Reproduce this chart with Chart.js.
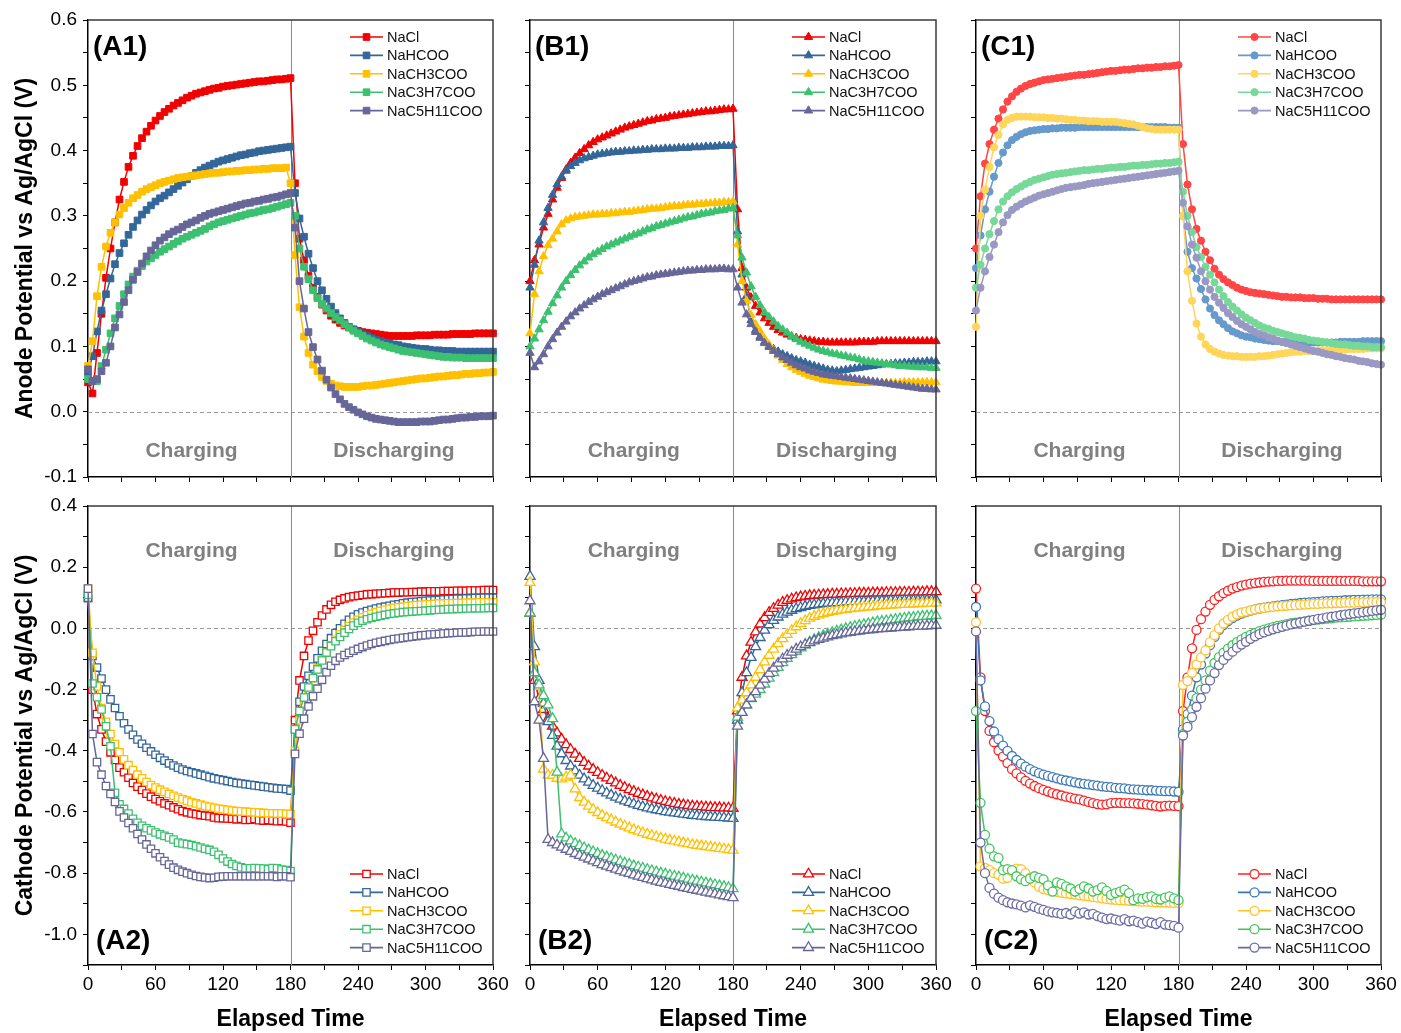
<!DOCTYPE html>
<html>
<head>
<meta charset="utf-8">
<script src="https://cdn.jsdelivr.net/npm/chart.js@4.4.0/dist/chart.umd.min.js"></script>
<style>
  body { margin: 0; background: #fff; width: 1401px; height: 1033px; position: relative; overflow: hidden; }
  canvas { position: absolute; }
</style>
</head>
<body>
<canvas id="a1"></canvas>
<canvas id="b1"></canvas>
<canvas id="c1"></canvas>
<canvas id="a2"></canvas>
<canvas id="b2"></canvas>
<canvas id="c2"></canvas>
<script>
const FONT = '"Liberation Sans", Arial, Helvetica, sans-serif';
Chart.defaults.font.family = FONT;
Chart.defaults.color = '#000';

const saltNames = ['NaCl', 'NaHCOO', 'NaCH3COO', 'NaC3H7COO', 'NaC5H11COO'];

// elapsed time (min)
const minutes = [
  0,4,8,12,16,20,24,28,32,36,
  40,44,48,52,56,60,64,68,72,76,
  80,84,88,92,96,100,104,108,112,116,
  120,124,128,132,136,140,144,148,152,156,
  160,164,168,172,176,180,184,188,192,196,
  200,204,208,212,216,220,224,228,232,236,
  240,244,248,252,256,260,264,268,272,276,
  280,284,288,292,296,300,304,308,312,316,
  320,324,328,332,336,340,344,348,352,356,
  360
];

// ---- (A1) anode ----
const a1NaCl = [
  0.045,0.028,0.09,0.15,0.205,0.25,0.29,0.325,0.352,0.375,
  0.392,0.407,0.419,0.429,0.438,0.446,0.453,0.459,0.464,0.469,
  0.473,0.477,0.481,0.484,0.487,0.489,0.491,0.493,0.495,0.496,
  0.498,0.499,0.5,0.501,0.502,0.503,0.504,0.505,0.506,0.506,
  0.507,0.508,0.509,0.509,0.51,0.511,0.35,0.265,0.232,0.208,
  0.19,0.176,0.164,0.155,0.147,0.141,0.136,0.132,0.129,0.126,
  0.124,0.122,0.121,0.12,0.119,0.118,0.117,0.116,0.116,0.116,
  0.116,0.116,0.116,0.117,0.117,0.117,0.117,0.118,0.118,0.118,
  0.118,0.119,0.119,0.119,0.119,0.119,0.12,0.12,0.12,0.12,
  0.12
];
const a1NaHCOO = [
  0.06,0.085,0.123,0.155,0.18,0.204,0.226,0.243,0.258,0.271,
  0.283,0.293,0.302,0.309,0.316,0.322,0.327,0.331,0.336,0.341,
  0.346,0.351,0.356,0.361,0.366,0.37,0.374,0.377,0.38,0.383,
  0.385,0.387,0.389,0.391,0.393,0.394,0.396,0.397,0.399,0.4,
  0.401,0.402,0.403,0.404,0.405,0.406,0.335,0.296,0.268,0.242,
  0.22,0.2,0.186,0.173,0.161,0.151,0.143,0.136,0.13,0.126,
  0.122,0.119,0.116,0.113,0.11,0.108,0.106,0.104,0.103,0.102,
  0.1,0.099,0.098,0.097,0.096,0.096,0.095,0.094,0.094,0.093,
  0.093,0.093,0.092,0.092,0.092,0.092,0.092,0.092,0.092,0.092,
  0.092
];
const a1NaCH3COO = [
  0.07,0.108,0.177,0.222,0.253,0.274,0.29,0.302,0.312,0.32,
  0.327,0.332,0.337,0.341,0.344,0.347,0.35,0.352,0.354,0.356,
  0.358,0.359,0.36,0.361,0.362,0.363,0.364,0.365,0.366,0.366,
  0.367,0.368,0.368,0.369,0.369,0.37,0.37,0.371,0.371,0.372,
  0.372,0.373,0.373,0.373,0.374,0.35,0.24,0.16,0.115,0.09,
  0.072,0.062,0.053,0.047,0.043,0.04,0.039,0.038,0.038,0.038,
  0.038,0.039,0.04,0.04,0.041,0.042,0.043,0.044,0.045,0.046,
  0.047,0.048,0.049,0.05,0.051,0.051,0.052,0.053,0.054,0.054,
  0.055,0.056,0.056,0.057,0.058,0.058,0.059,0.059,0.06,0.06,
  0.061
];
const a1NaC3H7COO = [
  0.05,0.047,0.047,0.07,0.095,0.12,0.143,0.162,0.18,0.195,
  0.207,0.216,0.223,0.23,0.235,0.24,0.245,0.249,0.253,0.257,
  0.261,0.265,0.268,0.271,0.274,0.277,0.28,0.284,0.287,0.29,
  0.292,0.294,0.296,0.298,0.3,0.302,0.304,0.305,0.307,0.309,
  0.31,0.312,0.314,0.316,0.318,0.32,0.3,0.25,0.222,0.203,
  0.186,0.174,0.165,0.158,0.151,0.145,0.14,0.134,0.129,0.124,
  0.12,0.116,0.112,0.109,0.106,0.103,0.101,0.099,0.097,0.095,
  0.093,0.092,0.091,0.09,0.089,0.088,0.087,0.086,0.085,0.084,
  0.084,0.083,0.083,0.083,0.082,0.082,0.082,0.082,0.082,0.082,
  0.082
];
const a1NaC5H11COO = [
  0.065,0.047,0.05,0.062,0.075,0.1,0.129,0.149,0.168,0.186,
  0.202,0.214,0.227,0.238,0.247,0.255,0.262,0.267,0.272,0.276,
  0.279,0.283,0.287,0.29,0.293,0.297,0.3,0.303,0.305,0.307,
  0.309,0.311,0.313,0.315,0.317,0.319,0.32,0.322,0.323,0.325,
  0.326,0.328,0.329,0.331,0.333,0.335,0.282,0.2,0.158,0.122,
  0.099,0.08,0.063,0.049,0.037,0.027,0.019,0.012,0.007,0.003,
  -0.001,-0.004,-0.007,-0.009,-0.011,-0.012,-0.013,-0.014,-0.015,-0.016,
  -0.016,-0.016,-0.016,-0.016,-0.015,-0.015,-0.015,-0.014,-0.013,-0.012,
  -0.012,-0.011,-0.01,-0.009,-0.009,-0.008,-0.008,-0.007,-0.007,-0.007,
  -0.006
];

// ---- (B1) anode ----
const b1NaCl = [
  0.2,0.232,0.256,0.282,0.303,0.325,0.343,0.358,0.371,0.381,
  0.389,0.396,0.402,0.408,0.413,0.417,0.42,0.423,0.426,0.429,
  0.432,0.435,0.437,0.439,0.441,0.443,0.445,0.446,0.448,0.449,
  0.45,0.452,0.453,0.454,0.455,0.456,0.457,0.458,0.459,0.46,
  0.46,0.461,0.462,0.463,0.463,0.464,0.31,0.22,0.19,0.175,
  0.162,0.152,0.143,0.136,0.13,0.125,0.121,0.118,0.115,0.113,
  0.111,0.11,0.109,0.108,0.107,0.107,0.106,0.106,0.106,0.106,
  0.106,0.106,0.106,0.107,0.107,0.107,0.107,0.108,0.108,0.108,
  0.108,0.108,0.108,0.108,0.108,0.108,0.108,0.108,0.108,0.108,
  0.108
];
const b1NaHCOO = [
  0.19,0.225,0.262,0.29,0.312,0.332,0.348,0.36,0.369,0.376,
  0.381,0.385,0.388,0.39,0.392,0.394,0.395,0.396,0.397,0.398,
  0.398,0.399,0.399,0.4,0.4,0.401,0.401,0.402,0.402,0.402,
  0.403,0.403,0.403,0.404,0.404,0.404,0.405,0.405,0.405,0.406,
  0.406,0.406,0.407,0.407,0.407,0.408,0.276,0.21,0.177,0.14,
  0.125,0.115,0.107,0.101,0.096,0.092,0.088,0.085,0.082,0.079,
  0.077,0.075,0.072,0.07,0.068,0.066,0.064,0.063,0.062,0.063,
  0.064,0.065,0.066,0.067,0.068,0.069,0.07,0.071,0.072,0.073,
  0.073,0.074,0.074,0.075,0.075,0.076,0.076,0.076,0.077,0.077,
  0.077
];
const b1NaCH3COO = [
  0.12,0.18,0.215,0.238,0.255,0.265,0.276,0.287,0.293,0.296,
  0.298,0.299,0.3,0.301,0.302,0.302,0.303,0.303,0.304,0.304,
  0.305,0.306,0.306,0.307,0.308,0.309,0.31,0.311,0.311,0.312,
  0.313,0.314,0.315,0.315,0.316,0.317,0.317,0.318,0.318,0.319,
  0.319,0.32,0.32,0.321,0.321,0.322,0.256,0.2,0.17,0.148,
  0.134,0.123,0.112,0.103,0.094,0.086,0.079,0.073,0.068,0.064,
  0.061,0.058,0.055,0.053,0.051,0.049,0.048,0.047,0.046,0.046,
  0.045,0.045,0.044,0.044,0.044,0.044,0.044,0.044,0.044,0.044,
  0.044,0.044,0.044,0.045,0.045,0.045,0.045,0.045,0.045,0.045,
  0.045
];
const b1NaC3H7COO = [
  0.1,0.112,0.126,0.14,0.153,0.166,0.178,0.19,0.2,0.209,
  0.217,0.224,0.23,0.236,0.241,0.245,0.249,0.253,0.256,0.259,
  0.262,0.265,0.268,0.271,0.273,0.276,0.279,0.281,0.284,0.286,
  0.288,0.29,0.292,0.294,0.296,0.298,0.299,0.301,0.303,0.304,
  0.305,0.307,0.308,0.309,0.311,0.312,0.27,0.236,0.213,0.192,
  0.176,0.163,0.152,0.145,0.138,0.131,0.126,0.121,0.116,0.111,
  0.107,0.104,0.101,0.098,0.095,0.093,0.091,0.089,0.088,0.086,
  0.085,0.083,0.082,0.08,0.078,0.077,0.076,0.075,0.074,0.073,
  0.072,0.071,0.07,0.07,0.069,0.069,0.068,0.068,0.068,0.067,
  0.067
];
const b1NaC5H11COO = [
  0.09,0.068,0.077,0.088,0.1,0.111,0.121,0.13,0.138,0.146,
  0.152,0.158,0.163,0.168,0.172,0.176,0.18,0.183,0.186,0.189,
  0.192,0.195,0.198,0.2,0.202,0.204,0.206,0.207,0.209,0.21,
  0.211,0.212,0.213,0.214,0.215,0.216,0.216,0.217,0.217,0.218,
  0.218,0.218,0.219,0.219,0.218,0.218,0.19,0.167,0.149,0.134,
  0.122,0.113,0.105,0.099,0.093,0.088,0.083,0.079,0.075,0.071,
  0.068,0.066,0.063,0.061,0.059,0.057,0.056,0.055,0.054,0.053,
  0.052,0.051,0.05,0.049,0.048,0.047,0.046,0.045,0.044,0.043,
  0.042,0.041,0.04,0.039,0.038,0.037,0.036,0.035,0.035,0.034,
  0.034
];

// ---- (C1) anode ----
const c1NaCl = [
  0.25,0.33,0.38,0.41,0.432,0.449,0.463,0.475,0.483,0.49,
  0.495,0.499,0.502,0.504,0.506,0.508,0.509,0.51,0.511,0.512,
  0.513,0.514,0.515,0.516,0.516,0.517,0.518,0.519,0.52,0.521,
  0.522,0.522,0.523,0.524,0.524,0.525,0.526,0.526,0.527,0.527,
  0.528,0.528,0.529,0.529,0.53,0.531,0.41,0.348,0.31,0.28,
  0.262,0.245,0.232,0.219,0.21,0.203,0.198,0.194,0.19,0.187,
  0.185,0.183,0.182,0.181,0.18,0.179,0.178,0.177,0.176,0.176,
  0.175,0.175,0.175,0.174,0.174,0.174,0.173,0.173,0.173,0.172,
  0.172,0.172,0.172,0.172,0.172,0.172,0.172,0.172,0.172,0.172,
  0.172
];
const c1NaHCOO = [
  0.22,0.27,0.31,0.337,0.36,0.381,0.397,0.408,0.416,0.421,
  0.425,0.428,0.43,0.431,0.432,0.433,0.433,0.434,0.434,0.435,
  0.435,0.435,0.435,0.436,0.436,0.436,0.436,0.436,0.436,0.436,
  0.436,0.436,0.436,0.436,0.436,0.436,0.436,0.436,0.436,0.436,
  0.436,0.436,0.436,0.435,0.435,0.435,0.3,0.245,0.22,0.204,
  0.188,0.172,0.158,0.148,0.14,0.134,0.128,0.123,0.12,0.117,
  0.115,0.114,0.112,0.111,0.11,0.109,0.108,0.108,0.107,0.107,
  0.106,0.106,0.106,0.106,0.106,0.106,0.106,0.106,0.106,0.106,
  0.106,0.107,0.107,0.107,0.107,0.107,0.108,0.108,0.108,0.108,
  0.108
];
const c1NaCH3COO = [
  0.13,0.3,0.34,0.375,0.405,0.424,0.44,0.447,0.45,0.452,
  0.452,0.452,0.452,0.451,0.451,0.451,0.45,0.45,0.449,0.449,
  0.448,0.447,0.447,0.446,0.446,0.445,0.445,0.445,0.444,0.444,
  0.444,0.444,0.443,0.442,0.441,0.44,0.438,0.436,0.434,0.433,
  0.432,0.432,0.432,0.432,0.432,0.432,0.3,0.215,0.17,0.135,
  0.115,0.103,0.096,0.092,0.089,0.087,0.086,0.085,0.085,0.084,
  0.084,0.084,0.084,0.085,0.085,0.086,0.087,0.088,0.089,0.09,
  0.091,0.092,0.092,0.093,0.093,0.093,0.094,0.094,0.094,0.095,
  0.095,0.095,0.095,0.096,0.096,0.096,0.096,0.097,0.097,0.097,
  0.097
];
const c1NaC3H7COO = [
  0.19,0.225,0.25,0.272,0.292,0.31,0.322,0.33,0.336,0.341,
  0.345,0.349,0.352,0.355,0.357,0.359,0.361,0.363,0.364,0.365,
  0.366,0.367,0.368,0.369,0.37,0.37,0.371,0.372,0.372,0.373,
  0.374,0.374,0.375,0.375,0.376,0.377,0.377,0.378,0.378,0.379,
  0.38,0.38,0.381,0.381,0.382,0.383,0.337,0.3,0.275,0.252,
  0.237,0.222,0.21,0.198,0.187,0.177,0.168,0.161,0.155,0.149,
  0.144,0.14,0.136,0.132,0.129,0.127,0.124,0.122,0.12,0.118,
  0.116,0.114,0.113,0.112,0.11,0.109,0.108,0.107,0.106,0.105,
  0.104,0.103,0.103,0.102,0.101,0.101,0.1,0.1,0.099,0.099,
  0.099
];
const c1NaC5H11COO = [
  0.155,0.19,0.215,0.237,0.256,0.275,0.29,0.301,0.309,0.314,
  0.318,0.322,0.325,0.328,0.331,0.333,0.335,0.337,0.339,0.341,
  0.343,0.344,0.345,0.346,0.347,0.349,0.35,0.351,0.352,0.353,
  0.354,0.355,0.356,0.357,0.358,0.359,0.36,0.361,0.362,0.363,
  0.364,0.365,0.366,0.367,0.368,0.369,0.32,0.284,0.256,0.236,
  0.215,0.2,0.187,0.176,0.167,0.159,0.151,0.145,0.139,0.134,
  0.13,0.126,0.122,0.119,0.117,0.114,0.112,0.109,0.107,0.105,
  0.103,0.101,0.099,0.097,0.095,0.093,0.092,0.09,0.088,0.087,
  0.085,0.084,0.082,0.081,0.08,0.078,0.077,0.076,0.074,0.073,
  0.072
];

// ---- (A2) cathode ----
const a2NaCl = [
  0.1,-0.2,-0.28,-0.33,-0.37,-0.405,-0.43,-0.455,-0.47,-0.488,
  -0.505,-0.517,-0.528,-0.54,-0.55,-0.558,-0.565,-0.572,-0.578,-0.585,
  -0.591,-0.597,-0.601,-0.605,-0.607,-0.61,-0.612,-0.614,-0.618,-0.62,
  -0.62,-0.621,-0.622,-0.624,-0.622,-0.626,-0.625,-0.623,-0.627,-0.628,
  -0.626,-0.628,-0.63,-0.629,-0.631,-0.635,-0.3,-0.17,-0.09,-0.04,
  -0.008,0.02,0.042,0.062,0.077,0.087,0.093,0.098,0.102,0.105,
  0.107,0.109,0.111,0.112,0.113,0.114,0.115,0.116,0.117,0.117,
  0.118,0.118,0.119,0.119,0.12,0.12,0.121,0.121,0.121,0.122,
  0.122,0.122,0.123,0.123,0.123,0.124,0.124,0.124,0.125,0.125,
  0.125
];
const a2NaHCOO = [
  0.1,-0.09,-0.128,-0.164,-0.2,-0.232,-0.26,-0.287,-0.31,-0.33,
  -0.348,-0.363,-0.377,-0.39,-0.402,-0.413,-0.423,-0.432,-0.441,-0.448,
  -0.455,-0.461,-0.466,-0.47,-0.474,-0.478,-0.482,-0.486,-0.49,-0.493,
  -0.496,-0.499,-0.502,-0.505,-0.507,-0.509,-0.511,-0.513,-0.515,-0.517,
  -0.519,-0.521,-0.523,-0.524,-0.525,-0.53,-0.33,-0.24,-0.19,-0.155,
  -0.125,-0.098,-0.073,-0.051,-0.032,-0.015,0.0,0.015,0.028,0.038,
  0.046,0.052,0.057,0.061,0.065,0.068,0.071,0.074,0.077,0.079,
  0.082,0.084,0.086,0.087,0.089,0.09,0.091,0.092,0.093,0.094,
  0.095,0.096,0.097,0.097,0.098,0.098,0.099,0.099,0.1,0.1,
  0.1
];
const a2NaCH3COO = [
  0.13,-0.08,-0.19,-0.26,-0.305,-0.345,-0.378,-0.405,-0.428,-0.447,
  -0.463,-0.478,-0.49,-0.502,-0.512,-0.52,-0.527,-0.534,-0.541,-0.547,
  -0.553,-0.558,-0.563,-0.568,-0.572,-0.576,-0.58,-0.583,-0.586,-0.589,
  -0.591,-0.593,-0.595,-0.597,-0.598,-0.599,-0.6,-0.601,-0.602,-0.603,
  -0.604,-0.604,-0.605,-0.605,-0.606,-0.607,-0.4,-0.3,-0.245,-0.2,
  -0.163,-0.13,-0.102,-0.078,-0.056,-0.037,-0.02,-0.005,0.008,0.019,
  0.028,0.036,0.043,0.048,0.053,0.057,0.061,0.064,0.067,0.069,
  0.071,0.073,0.075,0.076,0.077,0.078,0.079,0.08,0.081,0.081,
  0.082,0.082,0.083,0.083,0.084,0.084,0.084,0.085,0.085,0.085,
  0.085
];
const a2NaC3H7COO = [
  0.11,-0.18,-0.225,-0.265,-0.32,-0.385,-0.537,-0.575,-0.59,-0.605,
  -0.622,-0.635,-0.645,-0.653,-0.66,-0.667,-0.673,-0.678,-0.683,-0.69,
  -0.7,-0.703,-0.705,-0.708,-0.712,-0.716,-0.72,-0.724,-0.73,-0.74,
  -0.752,-0.762,-0.77,-0.776,-0.781,-0.784,-0.784,-0.783,-0.784,-0.785,
  -0.787,-0.783,-0.784,-0.788,-0.79,-0.793,-0.33,-0.27,-0.226,-0.193,
  -0.162,-0.134,-0.105,-0.079,-0.058,-0.042,-0.028,-0.014,-0.002,0.009,
  0.018,0.025,0.03,0.034,0.038,0.041,0.044,0.047,0.049,0.051,
  0.053,0.054,0.055,0.056,0.057,0.058,0.059,0.06,0.061,0.062,
  0.063,0.063,0.064,0.064,0.065,0.065,0.066,0.066,0.066,0.067,
  0.067
];
const a2NaC5H11COO = [
  0.13,-0.345,-0.437,-0.478,-0.515,-0.541,-0.567,-0.598,-0.618,-0.636,
  -0.653,-0.672,-0.69,-0.706,-0.72,-0.735,-0.748,-0.76,-0.772,-0.782,
  -0.789,-0.795,-0.8,-0.805,-0.809,-0.812,-0.814,-0.816,-0.815,-0.812,
  -0.811,-0.81,-0.81,-0.81,-0.81,-0.81,-0.81,-0.81,-0.81,-0.81,
  -0.81,-0.81,-0.812,-0.81,-0.81,-0.813,-0.41,-0.344,-0.295,-0.255,
  -0.222,-0.197,-0.168,-0.143,-0.122,-0.106,-0.095,-0.087,-0.08,-0.073,
  -0.067,-0.061,-0.056,-0.051,-0.047,-0.044,-0.041,-0.038,-0.035,-0.033,
  -0.031,-0.029,-0.027,-0.025,-0.023,-0.022,-0.02,-0.019,-0.018,-0.017,
  -0.016,-0.015,-0.014,-0.013,-0.013,-0.012,-0.011,-0.011,-0.01,-0.01,
  -0.01
];

// ---- (B2) cathode ----
const b2NaCl = [
  0.05,-0.17,-0.23,-0.265,-0.295,-0.32,-0.342,-0.362,-0.38,-0.396,
  -0.411,-0.425,-0.438,-0.45,-0.461,-0.471,-0.48,-0.489,-0.497,-0.505,
  -0.513,-0.52,-0.527,-0.533,-0.539,-0.544,-0.549,-0.554,-0.558,-0.562,
  -0.566,-0.569,-0.572,-0.575,-0.577,-0.579,-0.581,-0.582,-0.583,-0.584,
  -0.585,-0.586,-0.586,-0.587,-0.587,-0.588,-0.27,-0.16,-0.09,-0.045,
  -0.012,0.014,0.035,0.052,0.065,0.076,0.085,0.091,0.096,0.1,
  0.103,0.105,0.107,0.108,0.109,0.11,0.111,0.112,0.112,0.113,
  0.113,0.114,0.114,0.115,0.115,0.115,0.116,0.116,0.116,0.117,
  0.117,0.117,0.118,0.118,0.118,0.119,0.119,0.119,0.12,0.12,
  0.12
];
const b2NaHCOO = [
  0.17,-0.06,-0.17,-0.245,-0.305,-0.35,-0.385,-0.41,-0.432,-0.45,
  -0.466,-0.48,-0.492,-0.503,-0.513,-0.522,-0.53,-0.538,-0.545,-0.552,
  -0.558,-0.564,-0.569,-0.574,-0.579,-0.583,-0.587,-0.59,-0.593,-0.596,
  -0.599,-0.601,-0.603,-0.605,-0.607,-0.609,-0.611,-0.612,-0.614,-0.615,
  -0.616,-0.617,-0.618,-0.619,-0.62,-0.621,-0.3,-0.21,-0.145,-0.095,
  -0.06,-0.03,-0.006,0.012,0.026,0.037,0.046,0.053,0.059,0.064,
  0.068,0.072,0.075,0.077,0.079,0.081,0.082,0.083,0.084,0.085,
  0.086,0.087,0.087,0.088,0.088,0.089,0.089,0.09,0.09,0.09,
  0.091,0.091,0.091,0.091,0.092,0.092,0.092,0.092,0.092,0.093,
  0.093
];
const b2NaCH3COO = [
  0.15,-0.11,-0.19,-0.46,-0.48,-0.48,-0.49,-0.492,-0.486,-0.48,
  -0.525,-0.553,-0.568,-0.581,-0.592,-0.602,-0.611,-0.619,-0.626,-0.633,
  -0.64,-0.646,-0.652,-0.658,-0.663,-0.668,-0.673,-0.677,-0.681,-0.685,
  -0.689,-0.692,-0.695,-0.698,-0.701,-0.704,-0.707,-0.709,-0.711,-0.713,
  -0.715,-0.717,-0.719,-0.721,-0.723,-0.725,-0.26,-0.235,-0.21,-0.185,
  -0.16,-0.135,-0.11,-0.088,-0.068,-0.05,-0.034,-0.02,-0.007,0.005,
  0.016,0.025,0.033,0.039,0.044,0.048,0.052,0.055,0.058,0.06,
  0.062,0.064,0.066,0.067,0.069,0.07,0.071,0.073,0.074,0.075,
  0.076,0.077,0.078,0.078,0.079,0.08,0.081,0.081,0.082,0.082,
  0.083
];
const b2NaC3H7COO = [
  0.05,-0.145,-0.185,-0.22,-0.25,-0.295,-0.47,-0.672,-0.685,-0.695,
  -0.703,-0.71,-0.717,-0.724,-0.73,-0.736,-0.742,-0.747,-0.752,-0.757,
  -0.762,-0.767,-0.771,-0.776,-0.78,-0.784,-0.788,-0.792,-0.796,-0.8,
  -0.803,-0.807,-0.81,-0.813,-0.816,-0.82,-0.823,-0.826,-0.829,-0.832,
  -0.835,-0.838,-0.841,-0.844,-0.847,-0.851,-0.29,-0.275,-0.25,-0.23,
  -0.215,-0.2,-0.182,-0.163,-0.145,-0.128,-0.112,-0.098,-0.086,-0.075,
  -0.064,-0.054,-0.045,-0.037,-0.03,-0.024,-0.019,-0.014,-0.009,-0.005,
  -0.001,0.003,0.006,0.009,0.012,0.015,0.018,0.021,0.023,0.025,
  0.027,0.029,0.031,0.033,0.035,0.036,0.038,0.039,0.04,0.041,
  0.042
];
const b2NaC5H11COO = [
  0.09,-0.24,-0.3,-0.425,-0.69,-0.7,-0.708,-0.715,-0.722,-0.729,
  -0.736,-0.742,-0.748,-0.754,-0.76,-0.766,-0.772,-0.777,-0.782,-0.787,
  -0.792,-0.797,-0.801,-0.806,-0.81,-0.814,-0.818,-0.822,-0.826,-0.83,
  -0.833,-0.837,-0.84,-0.843,-0.847,-0.85,-0.853,-0.856,-0.859,-0.862,
  -0.865,-0.868,-0.871,-0.874,-0.877,-0.88,-0.32,-0.275,-0.25,-0.228,
  -0.207,-0.186,-0.166,-0.147,-0.13,-0.114,-0.1,-0.088,-0.078,-0.068,
  -0.06,-0.053,-0.047,-0.041,-0.036,-0.032,-0.028,-0.024,-0.021,-0.018,
  -0.015,-0.013,-0.011,-0.009,-0.007,-0.005,-0.004,-0.002,-0.001,0.0,
  0.001,0.002,0.003,0.004,0.005,0.006,0.007,0.007,0.008,0.009,
  0.01
];

// ---- (C2) cathode ----
const c2NaCl = [
  0.13,-0.16,-0.27,-0.335,-0.372,-0.399,-0.419,-0.44,-0.46,-0.474,
  -0.487,-0.498,-0.507,-0.515,-0.522,-0.528,-0.533,-0.538,-0.542,-0.546,
  -0.55,-0.553,-0.556,-0.559,-0.563,-0.567,-0.571,-0.574,-0.576,-0.575,
  -0.571,-0.57,-0.57,-0.571,-0.571,-0.572,-0.573,-0.574,-0.576,-0.578,
  -0.58,-0.582,-0.58,-0.579,-0.58,-0.581,-0.27,-0.16,-0.065,-0.005,
  0.03,0.055,0.077,0.093,0.105,0.115,0.123,0.13,0.135,0.14,
  0.143,0.146,0.148,0.15,0.152,0.153,0.154,0.155,0.155,0.156,
  0.156,0.156,0.156,0.156,0.156,0.155,0.155,0.155,0.155,0.155,
  0.155,0.155,0.155,0.155,0.155,0.155,0.154,0.154,0.154,0.154,
  0.154
];
const c2NaHCOO = [
  0.07,-0.17,-0.255,-0.303,-0.337,-0.362,-0.383,-0.4,-0.417,-0.43,
  -0.442,-0.452,-0.46,-0.467,-0.473,-0.478,-0.482,-0.486,-0.49,-0.494,
  -0.497,-0.5,-0.503,-0.506,-0.508,-0.51,-0.512,-0.514,-0.516,-0.518,
  -0.519,-0.521,-0.522,-0.523,-0.525,-0.526,-0.527,-0.528,-0.529,-0.529,
  -0.53,-0.531,-0.532,-0.532,-0.533,-0.534,-0.33,-0.28,-0.22,-0.16,
  -0.118,-0.082,-0.055,-0.028,-0.005,0.011,0.024,0.034,0.042,0.048,
  0.053,0.058,0.062,0.065,0.068,0.07,0.072,0.074,0.076,0.078,
  0.08,0.081,0.083,0.084,0.085,0.086,0.087,0.088,0.089,0.09,
  0.09,0.091,0.092,0.092,0.093,0.093,0.094,0.094,0.095,0.095,
  0.095
];
const c2NaCH3COO = [
  0.02,-0.778,-0.783,-0.79,-0.8,-0.805,-0.818,-0.815,-0.795,-0.785,
  -0.787,-0.8,-0.815,-0.83,-0.845,-0.852,-0.855,-0.858,-0.861,-0.864,
  -0.866,-0.868,-0.87,-0.872,-0.874,-0.876,-0.878,-0.88,-0.882,-0.884,
  -0.886,-0.887,-0.888,-0.889,-0.89,-0.891,-0.892,-0.893,-0.893,-0.894,
  -0.895,-0.895,-0.896,-0.896,-0.897,-0.897,-0.185,-0.172,-0.145,-0.118,
  -0.095,-0.072,-0.045,-0.022,0.0,0.016,0.028,0.038,0.046,0.052,
  0.055,0.059,0.062,0.065,0.067,0.069,0.07,0.072,0.073,0.074,
  0.075,0.076,0.077,0.078,0.079,0.08,0.08,0.081,0.082,0.082,
  0.083,0.083,0.084,0.084,0.084,0.085,0.085,0.085,0.086,0.086,
  0.086
];
const c2NaC3H7COO = [
  -0.27,-0.57,-0.675,-0.72,-0.745,-0.75,-0.79,-0.787,-0.79,-0.81,
  -0.82,-0.826,-0.818,-0.81,-0.815,-0.82,-0.84,-0.86,-0.83,-0.835,
  -0.843,-0.85,-0.86,-0.852,-0.843,-0.85,-0.86,-0.855,-0.846,-0.858,
  -0.871,-0.865,-0.86,-0.854,-0.865,-0.888,-0.882,-0.884,-0.878,-0.876,
  -0.884,-0.886,-0.88,-0.876,-0.882,-0.888,-0.345,-0.305,-0.265,-0.228,
  -0.2,-0.17,-0.138,-0.113,-0.094,-0.079,-0.066,-0.055,-0.045,-0.036,
  -0.028,-0.021,-0.015,-0.009,-0.004,0.0,0.004,0.008,0.011,0.014,
  0.017,0.019,0.021,0.023,0.025,0.027,0.029,0.03,0.032,0.033,
  0.035,0.036,0.037,0.038,0.039,0.04,0.041,0.042,0.043,0.044,
  0.045
];
const c2NaC5H11COO = [
  -0.01,-0.7,-0.8,-0.848,-0.867,-0.88,-0.888,-0.895,-0.899,-0.902,
  -0.906,-0.912,-0.905,-0.91,-0.916,-0.92,-0.925,-0.928,-0.93,-0.933,
  -0.93,-0.935,-0.925,-0.932,-0.928,-0.935,-0.933,-0.94,-0.945,-0.95,
  -0.948,-0.952,-0.955,-0.95,-0.957,-0.955,-0.96,-0.965,-0.958,-0.962,
  -0.966,-0.96,-0.968,-0.97,-0.972,-0.978,-0.35,-0.322,-0.29,-0.256,
  -0.228,-0.197,-0.17,-0.146,-0.12,-0.103,-0.088,-0.076,-0.063,-0.053,
  -0.044,-0.034,-0.026,-0.019,-0.013,-0.008,-0.003,0.001,0.005,0.009,
  0.013,0.016,0.019,0.022,0.025,0.028,0.031,0.033,0.036,0.038,
  0.04,0.043,0.045,0.047,0.049,0.051,0.053,0.055,0.057,0.059,
  0.061
];

// colours
const palAB = ['#f00000', '#336699', '#ffc000', '#3cc070', '#666699'];
const palC1 = ['#ff4545', '#6699cc', '#ffd55a', '#77d999', '#9999c4'];
const palC2 = ['#ff2020', '#3b77b8', '#ffc22a', '#40c55c', '#6b6ba3'];

// geometry of the 3 columns / 2 rows
const cols = [
  { left: 0,   width: 520, yw: 88, padR: 27 },
  { left: 505, width: 450, yw: 25, padR: 19 },
  { left: 950, width: 451, yw: 26, padR: 20 }
];
const rows = [
  { top: 0,   height: 495, padT: 20, xh: 18, min: -0.1, max: 0.6, step: 0.05,
    title: 'Anode Potential vs Ag/AgCl (V)' },
  { top: 485, height: 548, padT: 21, xh: 68, min: -1.1, max: 0.4, step: 0.1,
    title: 'Cathode Potential vs Ag/AgCl (V)' }
];

const panels = [
  { id: 'a1', tag: '(A1)', row: 0, col: 0, marker: 'rect', r: 4.7, hollow: false, colors: palAB,
    series: [a1NaCl, a1NaHCOO, a1NaCH3COO, a1NaC3H7COO, a1NaC5H11COO] },
  { id: 'b1', tag: '(B1)', row: 0, col: 1, marker: 'triangle', r: 4.8, hollow: false, colors: palAB,
    series: [b1NaCl, b1NaHCOO, b1NaCH3COO, b1NaC3H7COO, b1NaC5H11COO] },
  { id: 'c1', tag: '(C1)', row: 0, col: 2, marker: 'circle', r: 3.6, hollow: false, colors: palC1,
    series: [c1NaCl, c1NaHCOO, c1NaCH3COO, c1NaC3H7COO, c1NaC5H11COO] },
  { id: 'a2', tag: '(A2)', row: 1, col: 0, marker: 'rect', r: 5.2, hollow: true, colors: palAB,
    series: [a2NaCl, a2NaHCOO, a2NaCH3COO, a2NaC3H7COO, a2NaC5H11COO] },
  { id: 'b2', tag: '(B2)', row: 1, col: 1, marker: 'triangle', r: 5.8, hollow: true, colors: palAB,
    series: [b2NaCl, b2NaHCOO, b2NaCH3COO, b2NaC3H7COO, b2NaC5H11COO] },
  { id: 'c2', tag: '(C2)', row: 1, col: 2, marker: 'circle', r: 4.5, hollow: true, colors: palC2,
    series: [c2NaCl, c2NaHCOO, c2NaCH3COO, c2NaC3H7COO, c2NaC5H11COO] }
];

function drawMarker(ctx, style, x, y, r) {
  ctx.beginPath();
  if (style === 'rect') {
    const s = r * Math.SQRT1_2;
    ctx.rect(x - s, y - s, 2 * s, 2 * s);
  } else if (style === 'triangle') {
    ctx.moveTo(x, y - r);
    ctx.lineTo(x + r * 0.866, y + r / 2);
    ctx.lineTo(x - r * 0.866, y + r / 2);
    ctx.closePath();
  } else {
    ctx.arc(x, y, r, 0, Math.PI * 2);
  }
  ctx.fill();
  ctx.stroke();
}

// reference lines, region texts, frame, panel tag and legend
function makeDeco(p) {
  return {
    id: 'deco',
    beforeDatasetsDraw(chart) {
      const { ctx, chartArea: a, scales: { x, y } } = chart;
      ctx.save();
      ctx.lineWidth = 1;
      ctx.strokeStyle = '#9a9a9a';
      ctx.setLineDash([4, 3]);
      const y0 = Math.round(y.getPixelForValue(0)) + 0.5;
      ctx.beginPath(); ctx.moveTo(a.left, y0); ctx.lineTo(a.right, y0); ctx.stroke();
      ctx.setLineDash([]);
      ctx.strokeStyle = '#8c8c8c';
      const xm = Math.round(x.getPixelForValue(180)) + 0.5;
      ctx.beginPath(); ctx.moveTo(xm, a.top); ctx.lineTo(xm, a.bottom); ctx.stroke();

      ctx.fillStyle = '#808080';
      ctx.font = 'bold 21px ' + FONT;
      ctx.textAlign = 'center';
      ctx.textBaseline = 'middle';
      const ty = p.row === 0 ? a.bottom - 26 : a.top + 45;
      ctx.fillText('Charging', x.getPixelForValue(92), ty);
      ctx.fillText('Discharging', x.getPixelForValue(272), ty);
      ctx.restore();
    },
    afterDraw(chart) {
      const { ctx, chartArea: a } = chart;
      ctx.save();
      ctx.strokeStyle = '#3a3a3a';
      ctx.lineWidth = 1.5;
      ctx.beginPath();
      ctx.moveTo(a.left, a.top); ctx.lineTo(a.right, a.top); ctx.lineTo(a.right, a.bottom);
      ctx.stroke();

      ctx.fillStyle = '#000';
      ctx.font = 'bold 28px ' + FONT;
      ctx.textAlign = 'left';
      ctx.textBaseline = 'middle';
      const tagY = p.row === 0 ? a.top + 27 : a.bottom - 24;
      ctx.fillText(p.tag, a.left + (p.row === 0 ? 5 : 8), tagY);

      const lx = a.left + 262;
      const ly0 = a.top + (p.row === 0 ? 17 : 368);
      saltNames.forEach((name, i) => {
        const yy = ly0 + i * 18.4;
        const c = p.colors[i];
        ctx.strokeStyle = c;
        ctx.lineWidth = 1.6;
        ctx.beginPath(); ctx.moveTo(lx, yy); ctx.lineTo(lx + 33, yy); ctx.stroke();
        ctx.fillStyle = p.hollow ? '#fff' : c;
        ctx.lineWidth = p.hollow ? 1.3 : 1;
        drawMarker(ctx, p.marker, lx + 16.5, yy, p.r);
        ctx.fillStyle = '#111';
        ctx.font = '14.5px ' + FONT;
        ctx.textAlign = 'left';
        ctx.textBaseline = 'middle';
        ctx.fillText(name, lx + 37, yy + 1);
      });
      ctx.restore();
    }
  };
}

function tenths(v) {
  return (Math.round(v * 10) / 10).toFixed(1);
}

panels.forEach(p => {
  const col = cols[p.col];
  const row = rows[p.row];
  const canvas = document.getElementById(p.id);
  canvas.width = col.width;
  canvas.height = row.height;
  canvas.style.left = col.left + 'px';
  canvas.style.top = row.top + 'px';

  const datasets = p.series.map((vals, i) => ({
    label: saltNames[i],
    data: vals.map((v, k) => ({ x: minutes[k], y: v })),
    borderColor: p.colors[i],
    backgroundColor: p.colors[i],
    borderWidth: 1.5,
    pointStyle: p.marker,
    pointRadius: p.r,
    pointBorderWidth: p.hollow ? 1.3 : 1,
    pointBackgroundColor: p.hollow ? '#fff' : p.colors[i],
    pointBorderColor: p.colors[i],
    tension: 0,
    clip: false,
    order: 5 - i
  }));

  new Chart(canvas, {
    type: 'line',
    data: { datasets },
    plugins: [makeDeco(p)],
    options: {
      responsive: false,
      animation: false,
      devicePixelRatio: 1,
      events: [],
      layout: { padding: { top: row.padT, right: col.padR, left: 0, bottom: 0 } },
      plugins: { legend: { display: false }, tooltip: { enabled: false } },
      scales: {
        x: {
          type: 'linear',
          min: 0, max: 360,
          afterFit: s => { s.height = row.xh; },
          ticks: {
            stepSize: 30,
            autoSkip: false,
            maxRotation: 0,
            padding: 3,
            font: { size: 19 },
            color: '#000',
            callback: v => (p.row === 1 && v % 60 === 0) ? String(v) : ''
          },
          grid: { drawOnChartArea: false, drawTicks: true, tickLength: 5, color: '#000', lineWidth: 1 },
          border: { display: true, color: '#000', width: 1.5 },
          title: {
            display: p.row === 1,
            text: 'Elapsed Time',
            font: { size: 23, weight: 'bold' },
            color: '#000',
            padding: { top: 0, bottom: 0 }
          }
        },
        y: {
          min: row.min, max: row.max,
          afterFit: s => { s.width = col.yw; },
          ticks: {
            stepSize: row.step,
            autoSkip: false,
            padding: 6,
            font: { size: 19 },
            color: '#000',
            callback: v => {
              if (p.col !== 0) return '';
              const major = p.row === 0 ? 0.1 : 0.2;
              const q = v / major;
              return Math.abs(q - Math.round(q)) < 1e-6 ? tenths(v) : '';
            }
          },
          grid: { drawOnChartArea: false, drawTicks: true, tickLength: 5, color: '#000', lineWidth: 1 },
          border: { display: true, color: '#000', width: 1.5 },
          title: {
            display: p.col === 0,
            text: row.title,
            font: { size: 23, weight: 'bold' },
            color: '#000',
            padding: { top: 12, bottom: 0 }
          }
        }
      }
    }
  });
});
</script>
</body>
</html>
